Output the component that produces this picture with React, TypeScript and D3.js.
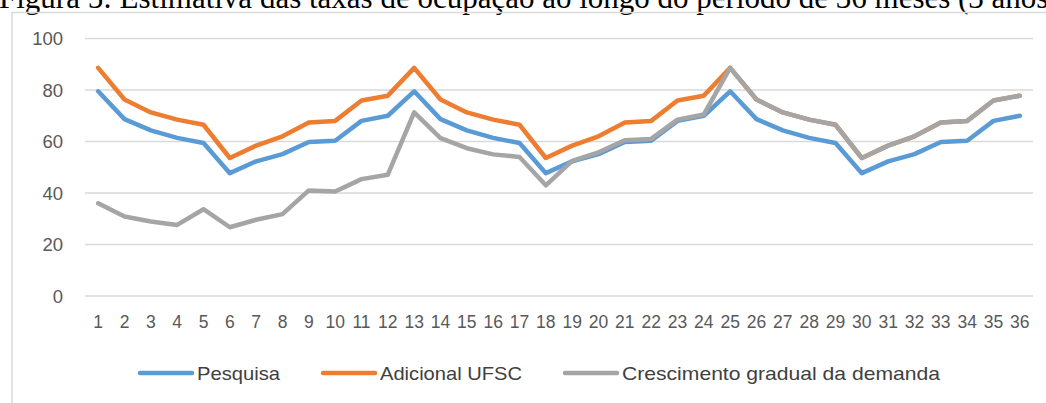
import React from "react";
import * as d3 from "d3";

const months: string[] = Array.from({ length: 36 }, (_, i) => String(i + 1));

const pesquisa: number[] = [
  79.5, 68.7, 64.3, 61.4, 59.4, 47.7, 52.3, 55.1, 59.8, 60.3, 68.0, 70.0,
  79.5, 68.7, 64.3, 61.4, 59.4, 47.7, 52.3, 55.1, 59.8, 60.3, 68.0, 70.0,
  79.5, 68.7, 64.3, 61.4, 59.4, 47.7, 52.3, 55.1, 59.8, 60.3, 68.0, 70.0,
];

const adicionalUFSC: number[] = [
  88.6, 76.3, 71.3, 68.5, 66.5, 53.6, 58.4, 62.0, 67.4, 68.0, 75.9, 77.8,
  88.6, 76.3, 71.3, 68.5, 66.5, 53.6, 58.4, 62.0, 67.4, 68.0, 75.9, 77.8,
  88.6, 76.3, 71.3, 68.5, 66.5, 53.6, 58.4, 62.0, 67.4, 68.0, 75.9, 77.8,
];

const crescimento: number[] = [
  36.0, 30.9, 28.9, 27.6, 33.7, 26.7, 29.6, 31.8, 41.0, 40.6, 45.4, 47.1,
  71.3, 61.3, 57.4, 55.0, 54.0, 43.0, 52.5, 55.8, 60.5, 61.0, 68.5, 70.5,
  88.6, 76.3, 71.3, 68.5, 66.5, 53.6, 58.4, 62.0, 67.4, 68.0, 75.9, 77.8,
];

const yTicks: number[] = [0, 20, 40, 60, 80, 100];

const seriesNames: string[] = ["Pesquisa", "Adicional UFSC", "Crescimento gradual da demanda"];
const seriesColors: string[] = ["#5B9BD5", "#ED7D31", "#A5A5A5"];
const seriesData: number[][] = [pesquisa, adicionalUFSC, crescimento];

const caption = "Figura 5: Estimativa das taxas de ocupação ao longo do período de 36 meses (3 anos)";

export default function App() {
  const W = 1046;
  const H = 403;
  const x = d3.scaleBand<string>().domain(months).range([85, 1033]);
  const y = d3.scaleLinear().domain([0, 100]).range([296, 38.5]);
  const cx = (m: string) => (x(m) as number) + x.bandwidth() / 2;

  const line = d3
    .line<number>()
    .x((_, i) => cx(months[i]))
    .y((d) => y(d));

  const legendItems = [
    { lx: 140, tx: 197, tw: 83 },
    { lx: 323, tx: 380, tw: 142 },
    { lx: 565, tx: 622, tw: 318 },
  ];

  return (
    <svg
      width={W}
      height={H}
      style={{ position: "absolute", left: 0, top: 0, display: "block", background: "#fff" }}
    >
      <text
        x={-1}
        y={8}
        fontFamily="'Liberation Serif', 'Times New Roman', serif"
        fontSize={31}
        fill="#000"
      >
        {caption}
      </text>
      <rect x={12} y={12.5} width={1200} height={600} fill="none" stroke="#D9D9D9" strokeWidth={1.5} />

      {yTicks.map((t) => (
        <g key={t}>
          <line x1={85} x2={1033} y1={y(t)} y2={y(t)} stroke="#D9D9D9" strokeWidth={1.5} />
          <text
            x={63}
            y={y(t)}
            textAnchor="end"
            dominantBaseline="central"
            fontFamily="'Liberation Sans', Arial, sans-serif"
            fontSize={18.5}
            fill="#595959"
          >
            {t}
          </text>
        </g>
      ))}

      {months.map((m) => (
        <text
          key={m}
          x={cx(m)}
          y={328}
          textAnchor="middle"
          fontFamily="'Liberation Sans', Arial, sans-serif"
          fontSize={17.5}
          fill="#595959"
        >
          {m}
        </text>
      ))}

      {seriesData.map((s, i) => (
        <path
          key={seriesNames[i]}
          d={line(s) || ""}
          fill="none"
          stroke={seriesColors[i]}
          strokeWidth={4.5}
          strokeLinejoin="round"
          strokeLinecap="round"
        />
      ))}

      {seriesNames.map((name, i) => (
        <g key={name}>
          <line
            x1={legendItems[i].lx}
            x2={legendItems[i].lx + 52}
            y1={373}
            y2={373}
            stroke={seriesColors[i]}
            strokeWidth={4.5}
            strokeLinecap="round"
          />
          <text
            x={legendItems[i].tx}
            y={373}
            dominantBaseline="central"
            fontFamily="'Liberation Sans', Arial, sans-serif"
            fontSize={19}
            fill="#404040"
            textLength={legendItems[i].tw}
            lengthAdjust="spacingAndGlyphs"
          >
            {name}
          </text>
        </g>
      ))}
    </svg>
  );
}
